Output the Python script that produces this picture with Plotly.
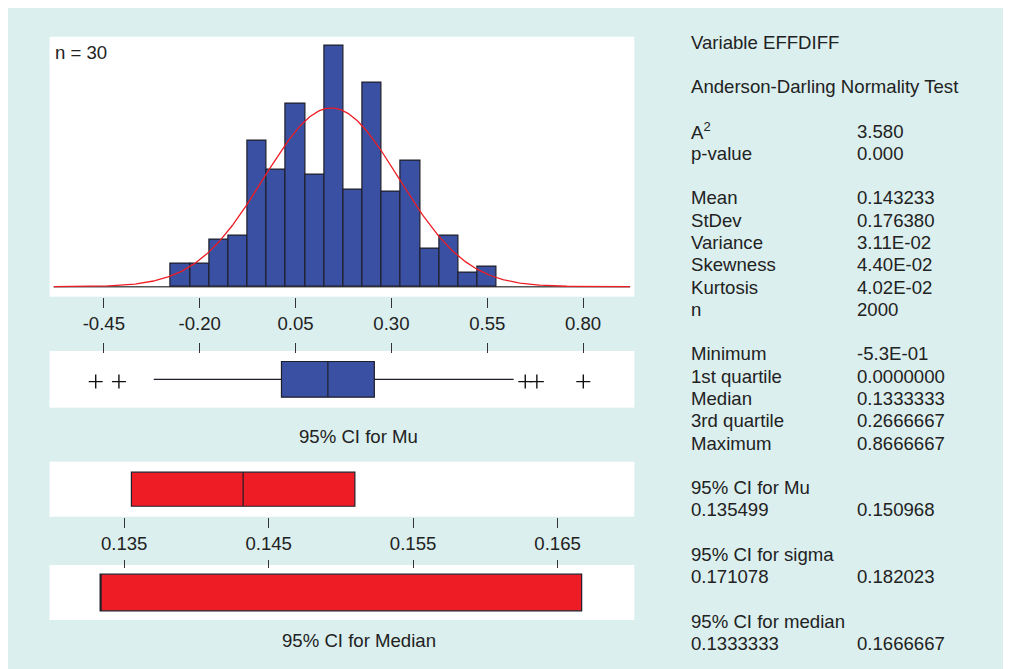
import numpy as np
import plotly.graph_objects as go

W, H = 1011, 669

# ---------------- data ----------------
bin_mids = [-0.25, -0.20, -0.15, -0.10, -0.05, 0.00, 0.05, 0.10, 0.15,
            0.20, 0.25, 0.30, 0.35, 0.40, 0.45, 0.50, 0.55]
bin_counts = [29, 29, 60, 64, 185, 148, 232, 142, 305,
              123, 258, 120, 160, 48, 64, 18, 25]
bin_width = 0.05
n_obs = 2000
mean_val = 0.143233
stdev_val = 0.176380

hist_ticks = [-0.45, -0.20, 0.05, 0.30, 0.55, 0.80]
hist_ticktext = ["-0.45", "-0.20", "0.05", "0.30", "0.55", "0.80"]

box_q1, box_med, box_q3 = 0.0, 0.1333333, 0.2666667
box_low, box_high = -0.3666667, 0.6666667
box_outliers = [-0.5333333, -0.4666667, 0.7, 0.7333333, 0.8666667]

ci_mu = [0.135499, 0.150968]
ci_median = [0.1333333, 0.1666667]
ci_ticks = [0.135, 0.145, 0.155, 0.165]
ci_ticktext = ["0.135", "0.145", "0.155", "0.165"]

stat_rows = [0, 2, 4, 5, 7, 8, 9, 10, 11, 12, 14, 15, 16, 17, 18, 20, 21, 23, 24, 26, 27]
stat_left = ["Variable EFFDIFF", "Anderson-Darling Normality Test", "A<sup>2</sup>", "p-value",
             "Mean", "StDev", "Variance", "Skewness", "Kurtosis", "n",
             "Minimum", "1st quartile", "Median", "3rd quartile", "Maximum",
             "95% CI for Mu", "0.135499", "95% CI for sigma", "0.171078",
             "95% CI for median", "0.1333333"]
stat_right = ["", "", "3.580", "0.000",
              "0.143233", "0.176380", "3.11E-02", "4.40E-02", "4.02E-02", "2000",
              "-5.3E-01", "0.0000000", "0.1333333", "0.2666667", "0.8666667",
              "", "0.150968", "", "0.182023", "", "0.1666667"]

# ---------------- styling ----------------
FONT = "Liberation Sans, Arial, Helvetica, sans-serif"
TXT = "#222222"
TEAL = "#DBEFEE"
BLUE = "#3A50A2"
RED = "#EE1D25"
EDGE = "#1F1F2A"
FS = 18.6
OFF = 8  # page offset of the figure inside the browser window

def px_x(p):
    return (p - OFF) / W

def px_y(p):
    return 1 - (p - OFF) / H

xdom = [px_x(49.5), px_x(634.3)]
hist_dom = [px_y(296.7), px_y(36.7)]
box_dom = [px_y(407.7), px_y(351.0)]
cimu_dom = [px_y(516.7), px_y(461.7)]
cimed_dom = [px_y(620.0), px_y(565.0)]

hist_range = [-0.5917, 0.9336]
box_range = [-0.6660, 1.0131]
ci_range = [0.12983, 0.17031]

fig = go.Figure()

# histogram bars
fig.add_trace(go.Bar(x=bin_mids, y=bin_counts, width=bin_width,
                     marker=dict(color=BLUE, line=dict(color=EDGE, width=1.2)),
                     xaxis="x", yaxis="y", hoverinfo="skip"))

# fitted normal curve
xs = np.linspace(-0.58, 0.922, 400)
ys = n_obs * bin_width * np.exp(-0.5 * ((xs - mean_val) / stdev_val) ** 2) / (stdev_val * np.sqrt(2 * np.pi))
fig.add_trace(go.Scatter(x=xs, y=ys, mode="lines", line=dict(color=RED, width=1.3),
                         xaxis="x", yaxis="y", hoverinfo="skip"))

# boxplot
fig.add_trace(go.Box(orientation="h", y=[0], q1=[box_q1], median=[box_med], q3=[box_q3],
                     lowerfence=[box_low], upperfence=[box_high],
                     fillcolor=BLUE, line=dict(color=EDGE, width=1.2),
                     whiskerwidth=0, width=0.63, boxpoints=False,
                     xaxis="x2", yaxis="y2", hoverinfo="skip"))
fig.add_trace(go.Scatter(x=box_outliers, y=[-0.04] * len(box_outliers), mode="markers",
                         marker=dict(symbol="cross-thin", size=10, color="#111",
                                     line=dict(color="#111", width=1.4)),
                         xaxis="x2", yaxis="y2", hoverinfo="skip"))

# invisible trace carrying the tick marks above the boxplot panel
fig.add_trace(go.Scatter(x=hist_ticks, y=[0] * len(hist_ticks), mode="markers",
                         marker=dict(opacity=0), xaxis="x4", yaxis="y2", hoverinfo="skip"))

# CI for Mu
fig.add_trace(go.Box(orientation="h", y=[0], q1=[ci_mu[0]], median=[mean_val], q3=[ci_mu[1]],
                     lowerfence=[ci_mu[0]], upperfence=[ci_mu[1]],
                     fillcolor=RED, line=dict(color=EDGE, width=1.2),
                     whiskerwidth=0, width=0.62, boxpoints=False,
                     xaxis="x3", yaxis="y3", hoverinfo="skip"))

# CI for Median
fig.add_trace(go.Box(orientation="h", y=[0], q1=[ci_median[0]], median=[ci_median[0]], q3=[ci_median[1]],
                     lowerfence=[ci_median[0]], upperfence=[ci_median[1]],
                     fillcolor=RED, line=dict(color=EDGE, width=1.2),
                     whiskerwidth=0, width=0.667, boxpoints=False,
                     xaxis="x5", yaxis="y5", hoverinfo="skip"))

tickfont = dict(family=FONT, size=FS, color=TXT)
common_x = dict(showgrid=False, zeroline=False, showline=False, fixedrange=True)
hidden = dict(visible=False, showgrid=False, zeroline=False, fixedrange=True)

fig.update_layout(
    width=W, height=H, autosize=False,
    margin=dict(l=0, r=0, t=0, b=0),
    paper_bgcolor=TEAL, plot_bgcolor="white",
    showlegend=False, bargap=0,
    font=dict(family=FONT, size=FS, color=TXT),
    xaxis=dict(domain=xdom, anchor="y", range=hist_range, tickmode="array",
               tickvals=hist_ticks, ticktext=hist_ticktext, ticks="outside",
               ticklen=10, tickwidth=1, tickcolor="#333", tickfont=tickfont, **common_x),
    yaxis=dict(domain=hist_dom, range=[-12.7, 316.5], **hidden),
    xaxis2=dict(domain=xdom, anchor="y2", range=box_range, **hidden),
    yaxis2=dict(domain=box_dom, range=[-0.5, 0.5], **hidden),
    xaxis4=dict(overlaying="x2", anchor="free", position=px_y(353.3), side="top",
                range=hist_range, tickmode="array", tickvals=hist_ticks,
                ticks="outside", ticklen=10, tickwidth=1, tickcolor="#333",
                showticklabels=False, **common_x),
    xaxis3=dict(domain=xdom, anchor="y3", range=ci_range, tickmode="array",
                tickvals=ci_ticks, ticktext=ci_ticktext, ticks="outside",
                ticklen=10, tickwidth=1, tickcolor="#333", tickfont=tickfont, **common_x),
    yaxis3=dict(domain=cimu_dom, range=[-0.5, 0.5], **hidden),
    xaxis5=dict(domain=xdom, anchor="free", position=px_y(568.0), side="top",
                range=ci_range, tickmode="array", tickvals=ci_ticks,
                ticks="outside", ticklen=8, tickwidth=1, tickcolor="#333",
                showticklabels=False, **common_x),
    yaxis5=dict(domain=cimed_dom, range=[-0.5, 0.5], **hidden),
)

shapes = [
    # histogram baseline
    dict(type="line", xref="x domain", yref="y", x0=0.007, x1=0.993, y0=0, y1=0,
         line=dict(color="#555", width=1.5), layer="below"),
]
fig.update_layout(shapes=shapes)

annotations = [
    dict(text="n = 30", x=px_x(53), y=px_y(53), xref="paper", yref="paper",
         xanchor="left", yanchor="middle", showarrow=False, font=dict(size=FS, color=TXT)),
    dict(text="95% CI for Mu", x=px_x(358.5), y=px_y(436.7), xref="paper", yref="paper",
         xanchor="center", yanchor="middle", showarrow=False, font=dict(size=FS, color=TXT)),
    dict(text="95% CI for Median", x=px_x(358.5), y=px_y(640), xref="paper", yref="paper",
         xanchor="center", yanchor="middle", showarrow=False, font=dict(size=FS, color=TXT)),
]
for r, lt, rt in zip(stat_rows, stat_left, stat_right):
    yy = px_y(42 + 22.28 * r)
    annotations.append(dict(text=lt, x=px_x(689), y=yy, xref="paper", yref="paper",
                            xanchor="left", yanchor="middle", showarrow=False,
                            font=dict(size=FS, color=TXT)))
    if rt:
        annotations.append(dict(text=rt, x=px_x(855), y=yy, xref="paper", yref="paper",
                                xanchor="left", yanchor="middle", showarrow=False,
                                font=dict(size=FS, color=TXT)))
fig.update_layout(annotations=annotations)

fig.write_html("out.html")
